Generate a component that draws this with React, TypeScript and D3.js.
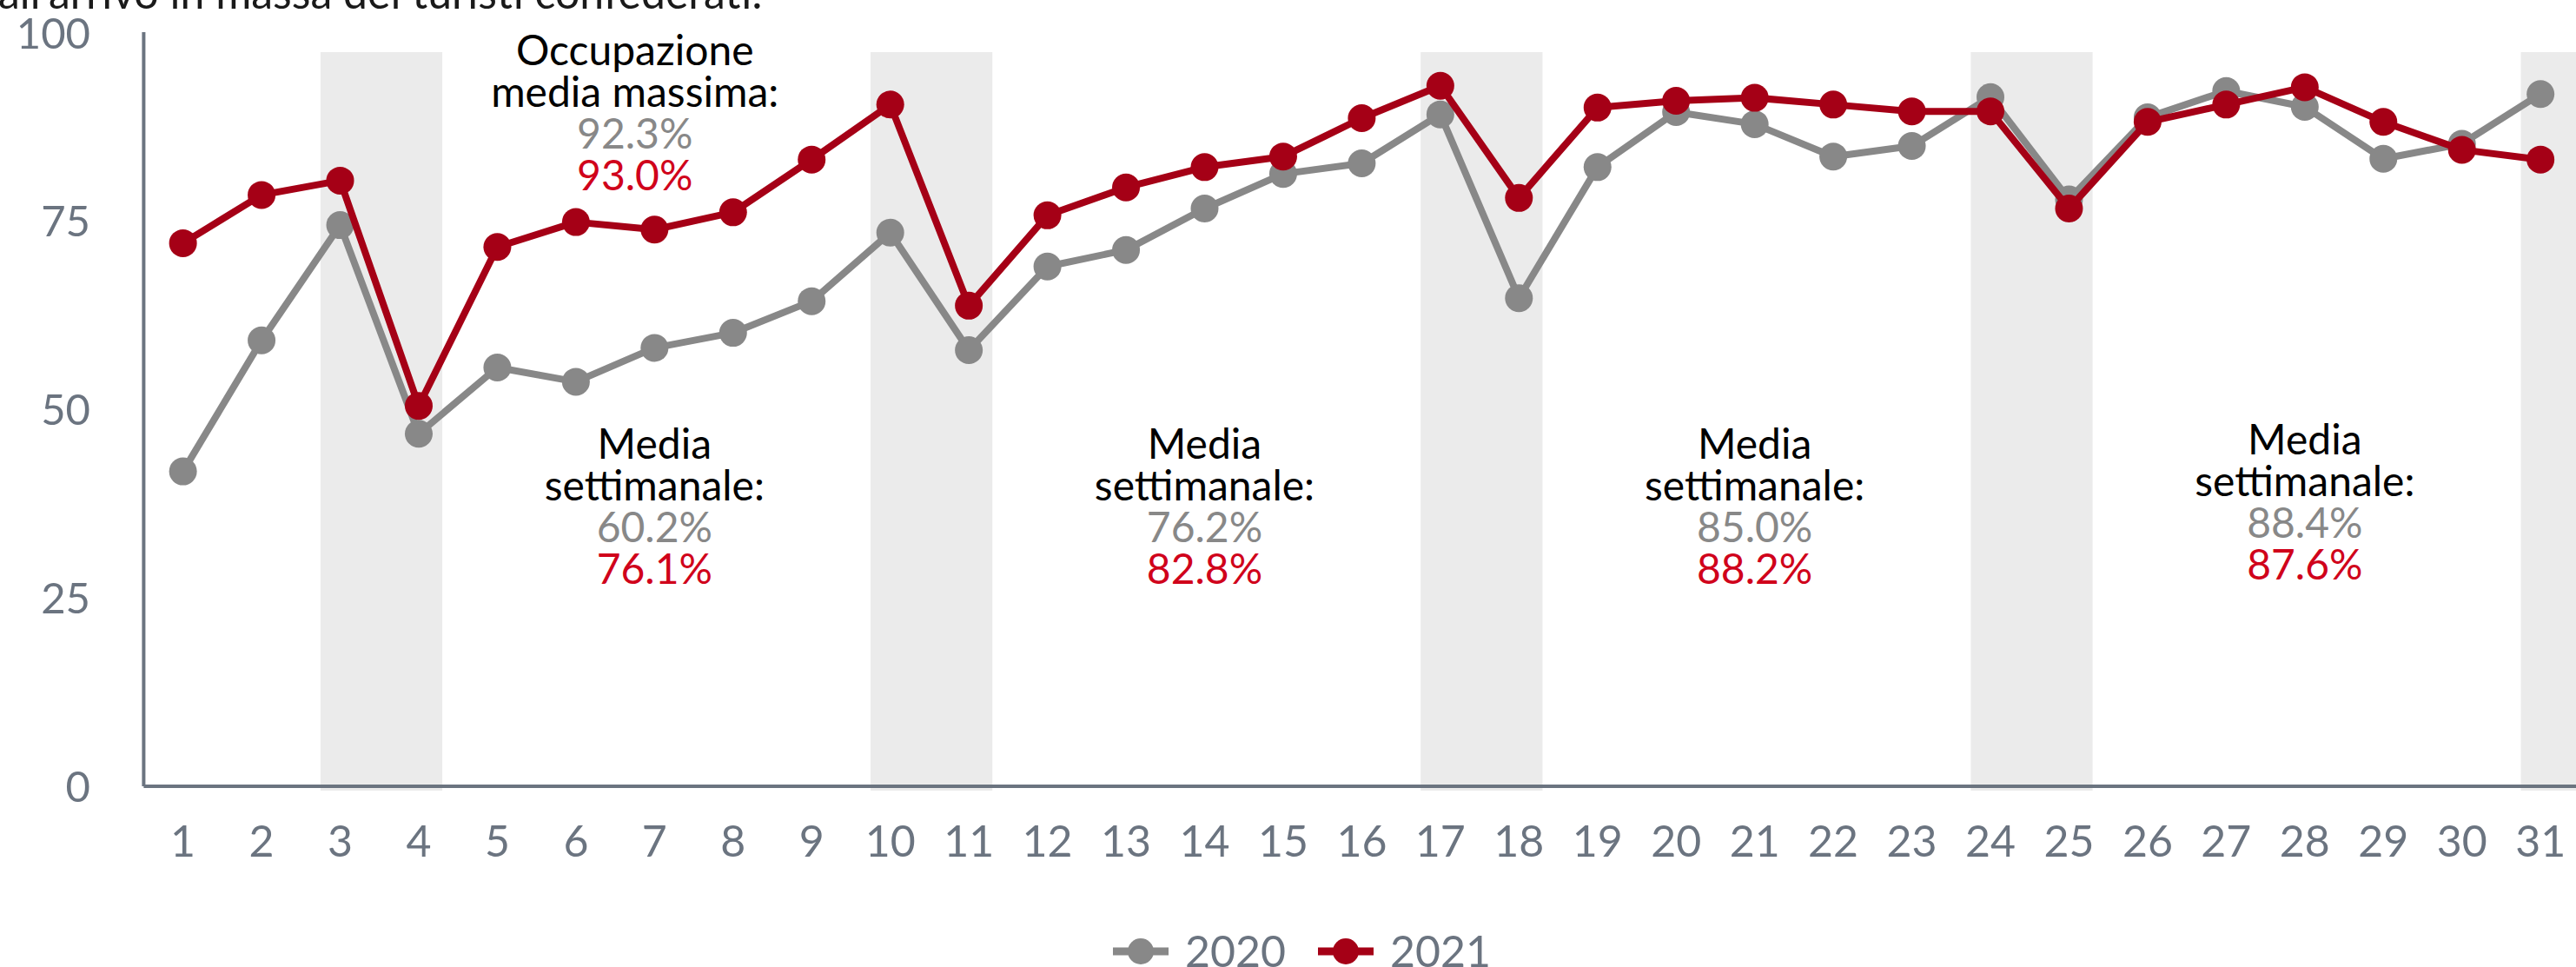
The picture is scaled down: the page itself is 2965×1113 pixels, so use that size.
import React from 'react';
import * as d3 from 'd3';

// giorni del mese
const days = [
  1, 2, 3, 4, 5, 6, 7, 8, 9, 10, 11, 12, 13, 14, 15, 16, 17, 18, 19, 20, 21,
  22, 23, 24, 25, 26, 27, 28, 29, 30, 31,
];

// occupazione media (%)
const occ2020 = [
  41.8, 59.2, 74.5, 46.8, 55.6, 53.7, 58.2, 60.2, 64.4, 73.5, 57.9, 69.0,
  71.2, 76.7, 81.3, 82.7, 89.2, 64.8, 82.2, 89.5, 87.9, 83.6, 85.0, 91.5,
  77.9, 88.8, 92.3, 90.2, 83.3, 85.3, 91.9,
];
const occ2021 = [
  72.1, 78.5, 80.4, 50.5, 71.6, 74.9, 73.9, 76.2, 83.2, 90.5, 63.8, 75.8,
  79.5, 82.2, 83.6, 88.7, 93.0, 78.1, 90.1, 91.0, 91.4, 90.5, 89.6, 89.6,
  76.7, 88.2, 90.5, 92.8, 88.2, 84.5, 83.2,
];

const yTicks = [0, 25, 50, 75, 100];

// fine settimana evidenziati
const weekends = [
  [3, 4],
  [10, 11],
  [17, 18],
  [24, 25],
  [31, 31.7],
];

const weekNoteDays = [7, 14, 21, 28];
const weekNote2020 = ['60.2%', '76.2%', '85.0%', '88.4%'];
const weekNote2021 = ['76.1%', '82.8%', '88.2%', '87.6%'];

const peakNoteDay = 6.75;
const peak2020 = '92.3%';
const peak2021 = '93.0%';

const GREY = '#888888';
const RED = '#a50016';
const RED_TEXT = '#d0021b';
const AXIS = '#6b7480';
const FONT = 'Lato, "Open Sans", sans-serif';

const W = 2965;
const H = 1113;

export default function App() {
  const x = d3.scaleLinear().domain([0.5, 31.5]).range([165.4, 2969.4]);
  const y = d3.scaleLinear().domain([0, 100]).range([905, 38]);

  const line = d3
    .line<number>()
    .x((_, i) => x(days[i]))
    .y((d) => y(d));

  const series = [
    { name: '2020', values: occ2020, color: GREY },
    { name: '2021', values: occ2021, color: RED },
  ];

  const lh = 48;

  return (
    <>
      <style>{'body{margin:0}'}</style>
      <svg
        width={W}
        height={H}
        style={{ display: 'block', fontFamily: FONT }}
      >
        <rect width={W} height={H} fill="#ffffff" />

        {/* titolo tagliato in alto */}
        <text x={-2} y={10} fontSize={50} fill="#1a1a1a">
          all'arrivo in massa dei turisti confederati.
        </text>

        {/* bande fine settimana */}
        {weekends.map(([a, b], i) => (
          <rect
            key={i}
            x={x(a - 0.25)}
            y={60}
            width={x(b + 0.3) - x(a - 0.25)}
            height={910 - 60}
            fill="#ebebeb"
          />
        ))}

        {/* assi */}
        <line x1={x(0.5)} x2={x(0.5)} y1={y(100) - 1} y2={y(0)} stroke={AXIS} strokeWidth={4} />
        <line x1={x(0.5)} x2={W} y1={y(0)} y2={y(0)} stroke={AXIS} strokeWidth={4} />

        {yTicks.map((t) => (
          <text
            key={t}
            x={104}
            y={y(t)}
            dy="0.36em"
            textAnchor="end"
            fontSize={49}
            fill={AXIS}
          >
            {t}
          </text>
        ))}

        {days.map((d) => (
          <text
            key={d}
            x={x(d)}
            y={968}
            dy="0.36em"
            textAnchor="middle"
            fontSize={50}
            fill={AXIS}
          >
            {d}
          </text>
        ))}

        {/* serie */}
        {series.map((s) => (
          <g key={s.name}>
            <path
              d={line(s.values) || ''}
              fill="none"
              stroke={s.color}
              strokeWidth={8}
              strokeLinejoin="round"
            />
            {s.values.map((v, i) => (
              <circle key={i} cx={x(days[i])} cy={y(v)} r={16} fill={s.color} />
            ))}
          </g>
        ))}

        {/* annotazione massimo */}
        <g fontSize={48} textAnchor="middle">
          <text x={x(peakNoteDay)} y={75} fill="#000">Occupazione</text>
          <text x={x(peakNoteDay)} y={75 + lh} fill="#000">media massima:</text>
          <text x={x(peakNoteDay)} y={75 + 2 * lh} fill={GREY}>{peak2020}</text>
          <text x={x(peakNoteDay)} y={75 + 3 * lh} fill={RED_TEXT}>{peak2021}</text>
        </g>

        {/* medie settimanali */}
        {weekNoteDays.map((d, i) => {
          const top = i === 3 ? 523 : 528;
          return (
            <g key={d} fontSize={48} textAnchor="middle">
              <text x={x(d)} y={top} fill="#000">Media</text>
              <text x={x(d)} y={top + lh} fill="#000">settimanale:</text>
              <text x={x(d)} y={top + 2 * lh} fill={GREY}>{weekNote2020[i]}</text>
              <text x={x(d)} y={top + 3 * lh} fill={RED_TEXT}>{weekNote2021[i]}</text>
            </g>
          );
        })}

        {/* legenda */}
        {series.map((s, i) => {
          const lx = 1281 + i * 236;
          return (
            <g key={s.name}>
              <line x1={lx} x2={lx + 64} y1={1095} y2={1095} stroke={s.color} strokeWidth={9} />
              <circle cx={lx + 32} cy={1095} r={15} fill={s.color} />
              <text x={lx + 83} y={1095} dy="0.36em" fontSize={50} fill={AXIS}>
                {s.name}
              </text>
            </g>
          );
        })}
      </svg>
    </>
  );
}
